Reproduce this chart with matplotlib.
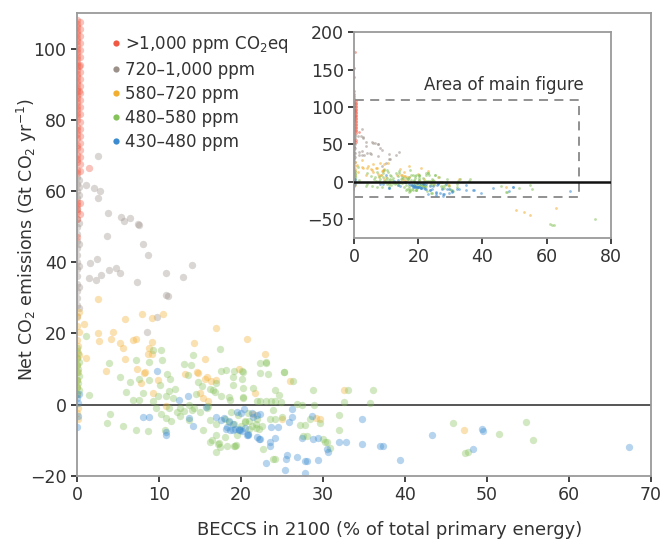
import numpy as np
import matplotlib
matplotlib.use("Agg")
import matplotlib.pyplot as plt
from matplotlib.lines import Line2D
from matplotlib.patches import Rectangle

plt.rcParams['font.family'] = ['DejaVu Sans']
plt.rcParams['mathtext.fontset'] = 'dejavusans'

# ---- data (BECCS %, net CO2 Gt/yr) ----
red_x = [0]*46 + [1.5, 0.2, 0.3] + [0.4]*24
red_y = [108, 107, 106, 105, 104, 103, 102, 101, 100, 99, 98, 97, 96, 95, 94, 93,
         92, 91, 90, 89, 88, 87, 86, 85, 84, 83, 82, 81, 80, 78, 77, 76, 75, 73,
         72, 70, 69, 68, 66, 65, 57, 56, 55, 54, 52, 47, 66.4, 88, 95,
         107.5, 105.5, 103.5, 101.5, 99.5, 97.5, 95.5, 93.5, 91.5, 89.5, 87.5, 85.5,
         83.5, 81.5, 79.5, 77.5, 75.5, 73.5, 71.5, 69.5, 67.5, 65.5, 56.5, 53.5]

gray_x = [0]*19 + [2.5, 1.1, 2.1, 2.8, 2.6, 3.8, 5.4, 5.7, 6.5, 7.4, 3.7, 8.0, 8.6,
                   1.6, 2.4, 1.5, 2.3, 2.9, 3.9, 4.8, 5.2, 7.3, 10.9, 12.9, 14.0,
                   10.9, 11.1, 9.8, 8.5, 7.5] + [0.3]*8
gray_y = [25, 28, 30, 32, 34, 36, 38, 40, 42, 44, 46, 48, 50, 52, 55, 58, 60, 62, 64,
          69.9, 61.7, 60.9, 60.0, 58.1, 53.7, 52.7, 51.5, 52.3, 50.6, 47.4, 45.2, 41.9,
          39.7, 40.8, 35.5, 35.1, 36.4, 37.8, 38.3, 37.0, 34.4, 37.0, 35.8, 39.3,
          30.8, 30.6, 24.5, 20.4, 50.4, 27, 33, 39, 45, 51, 59, 61, 63]

orange_x = [0, 0, 0.2, 0, 0.1, 0, 0.2, 0, 0, 0.1, 0, 0, 0, 0.1, 0, 0.1, 0.8, 1.1, 0.3,
            2.5, 7.9, 9.2, 10.5, 5.8, 17.0, 2.5, 4.4, 2.7, 4.1, 5.2, 5.6, 6.8, 7.2, 9.2,
            8.8, 14.3, 20.7, 5.9, 8.6, 9.1, 15.6, 3.5, 7.3, 8.2, 9.9, 13.2, 14.6, 15.6,
            15.9, 17.0, 15.0, 15.4, 19.8, 9.3, 7.8, 10.9, 22.9, 26.0, 21.7, 21.5, 25.0,
            29.2, 29.6, 32.6, 47.2, 14.8, 16.4, 8.3, 16.0]
orange_y = [24.6, 22, 20.5, 18, 16.5, 15, 14, 13, 11, 9, 7, 5, 3, -1, -2.5, -4.2, 22.6,
            13.2, 26, 29.7, 25.4, 24.2, 25.4, 24.0, 21.4, 20.1, 20.4, 17.9, 18.4, 17.4,
            16.0, 18.2, 18.4, 17.6, 16.0, 17.2, 18.4, 12.7, 14.1, 14.1, 12.9, 9.4, 9.9,
            8.8, 6.9, 8.5, 9.1, 7.3, 7.6, 6.9, 3.1, 1.9, 9.9, 3.1, 6.1, -0.5, 14.1, 6.6,
            3.3, -2.8, -4.0, -3.8, -4.0, 4.0, -7.2, 8.8, 6.5, 9.0, 1.0]

green_x = [0, 0.1, 0, 0.2, 0, 0.1, 0, 0.2, 0, 0.1, 0, 0.2, 0,
           1.1, 3.9, 5.3, 1.5, 6.5, 7.2, 8.8, 9.3, 10.2, 10.4, 11.0, 7.6, 8.8, 10.1,
           11.3, 11.2, 8.1, 6.8, 7.6, 9.3, 9.9, 10.9, 11.7, 13.0, 13.9, 14.1, 13.5,
           14.8, 16.2, 17.0, 17.6, 18.2, 19.0, 19.2, 20.1, 20.1, 19.0, 17.4, 16.6,
           17.6, 18.7, 20.2, 12.6, 13.6, 14.3, 15.8, 11.2, 10.3, 10.9, 11.5, 12.6,
           13.6, 4.0, 3.6, 5.6, 7.2, 8.7, 10.7, 15.4, 16.2, 17.0, 17.0, 17.2, 17.4,
           17.0, 19.1, 19.4,
           18.0, 18.5, 19.2, 20.0, 20.5, 21.0, 19.6, 18.8, 20.8, 21.8, 22.0, 21.0,
           19.5, 18.0, 16.5, 22.5, 16.2, 17.3, 18.3, 19.3, 23.9, 25.2, 23.1,
           22.3, 23.1, 20.3, 22.3, 23.3, 25.2, 26.4, 28.8, 20.3, 21.5, 24.1, 24.6,
           20.3, 21.9, 22.3, 23.1, 23.7, 24.1, 24.9, 26.8, 27.4, 28.9, 32.5, 35.7,
           31.9, 31.9, 33.1, 36.1, 23.9, 23.5, 24.2, 25.0, 20.5, 21.4, 21.8, 22.2,
           27.2, 27.8, 28.4, 27.5, 28.0, 30.0, 30.3, 30.8, 24.1, 22.7, 29.6,
           45.8, 51.5, 54.8, 55.6, 47.3, 47.7, 30.5,
           12.0, 14.5, 15.2, 16.8, 18.5, 12.2, 13.1, 9.6, 6.0, 14.0, 15.0, 16.0]
green_y = [16, 14.5, 13, 12, 11, 10, 9, 8, 7, 6, 5, 4, 3,
           19.3, 11.8, 7.8, 2.8, 6.3, 12.5, 12.0, 15.3, 15.3, 12.5, 8.5, 7.1, 6.9, 5.6,
           7.2, 3.8, 3.1, 1.4, 1.4, 0.9, 2.4, 2.5, 1.9, 11.3, 11.0, 13.8, 8.2, 6.3,
           4.4, 6.0, 9.4, 9.6, 7.8, 9.4, 9.4, 7.1, 5.6, 15.7, 4.2, 2.4, 1.4, 2.2, -0.9,
           0.0, -0.9, -0.9, -0.9, -2.8, -3.7, -4.7, -3.1, -4.3, -2.8, -5.2, -5.9, -7.1,
           -7.5, -7.1, -7.1, -4.4, -5.6, -8.5, -11.0, -11.8, -13.2, -11.6, -11.4,
           -4.0, -5.0, -5.5, -6.0, -5.0, -4.5, -3.0, -2.0, -2.5, -5.5, -4.0, -6.8,
           -8.5, -9.2, -10.0, -6.0, -10.6, -10.8, -11.6, -11.6, -15.3, 9.0, 11.7,
           11.8, 11.9, 9.1, 8.9, 8.7, 9.0, 6.6, 4.1, 4.7, 4.7, 4.2, 2.6,
           1.9, 0.9, 0.9, 0.9, 0.9, 0.9, 0.7, 0.2, 0.0, 0.0, 0.6, 0.4,
           -2.9, -7.1, 4.1, 4.1, -1.4, -4.0, -4.0, -3.5, -4.5, -6.0, -6.5, -6.8,
           -5.8, -5.8, -4.0, -8.8, -8.8, -9.6, -10.5, -12.2, -15.4, -12.4, -5.2,
           -5.2, -8.2, -5.0, -10.1, -13.6, -13.2, -10.5,
           4.5, 3.0, 5.2, 3.5, 2.0, -2.0, -1.8, -1.0, 3.6, -1.5, -2.2, -0.5]

blue_x = [0, 0, 0.1, 0.1, 0.2,
          9.8, 12.4, 13.5, 8.0, 8.8, 10.9, 10.8, 13.6, 14.2, 15.7, 17.0, 17.6, 18.3,
          19.0, 19.7, 20.1, 20.7, 20.4, 19.5, 20.0, 21.5, 21.9, 22.2, 23.1, 25.4, 25.6,
          26.8, 27.8, 28.1, 27.8, 29.4, 27.4, 28.8, 29.4, 30.6, 30.5, 31.9, 32.8, 26.2,
          24.5, 17.9, 18.5, 18.2, 18.6, 19.3, 19.8, 20.8, 21.4, 22.3, 19.9, 20.9, 21.9,
          22.3, 23.5, 23.5, 24.1, 26.2, 25.8, 23.7, 28.6, 34.8, 34.7, 37.0, 37.3, 39.4,
          25.5, 43.3, 49.4, 49.5, 48.3, 67.3, 19.0, 20.5]
blue_y = [1.9, -6.3, -3.1, 0.5, 3.0,
          9.4, 1.4, 2.5, -3.5, -3.5, -8.5, -7.8, -3.8, -6.1, -0.6, -3.5, -4.3, -6.3,
          -7.1, -6.9, -7.5, -8.5, -1.2, -2.2, -2.3, -3.5, -3.0, -9.8, -16.5, -18.4,
          -14.1, -14.6, -16.0, -16.0, -19.1, -15.5, -9.4, -9.7, -9.4, -13.2, -12.6,
          -10.4, -10.4, -3.5, -6.3, -3.8, -4.7, -7.0, -7.1, -7.0, -7.2, -8.5, -2.4,
          -2.8, -7.1, -8.2, -9.0, -9.8, -10.6, -11.6, -9.4, -1.2, -5.0, -6.3, -3.3,
          -4.1, -11.1, -11.6, -11.6, -15.7, -15.4, -8.7, -6.8, -7.5, -12.4, -11.8,
          -5.5, -6.5]

# points only visible in the inset (outside the main window)
red_out_x = [0, 0, 0, 0, 0.2, 0, 0]
red_out_y = [115, 121, 140, 152, 174, 112, 118]
orange_out_x = [50.5, 52.8, 54.9, 63.0]
orange_out_y = [-37.9, -40.5, -45.0, -34.7]
green_out_x = [61.2, 62.2, 61.8, 75.2]
green_out_y = [-57.0, -58.0, -57.5, -50.3]

labels = ['>1,000 ppm CO$_2$eq', '720–1,000 ppm', '580–720 ppm', '480–580 ppm', '430–480 ppm']
colors = ['#F05A45', '#9C918A', '#F2AE30', '#86C25A', '#3A8BD0']

series = [(red_x, red_y, red_out_x, red_out_y),
          (gray_x, gray_y, [], []),
          (orange_x, orange_y, orange_out_x, orange_out_y),
          (green_x, green_y, green_out_x, green_out_y),
          (blue_x, blue_y, [], [])]

draw_order = [1, 0, 2, 3, 4]

fig = plt.figure(figsize=(6.65, 5.39), dpi=100)
ax = fig.add_axes([0.1158, 0.1174, 0.8632, 0.8585])

for i in draw_order:
    xs, ys, _, _ = series[i]
    ax.scatter(xs, ys, s=28, color=colors[i], alpha=0.37, linewidths=0, zorder=2)

ax.axhline(0, color='#555555', lw=1.4, zorder=1)
ax.set_xlim(0, 70)
ax.set_ylim(-20, 110)
ax.set_xticks(range(0, 71, 10))
ax.set_yticks([-20, 0, 20, 40, 60, 80, 100])
for sp in ax.spines.values():
    sp.set_color('#9a9a9a')
    sp.set_linewidth(1.3)
ax.tick_params(direction='out', length=4, width=1.2, color='#222222',
               labelsize=12.5, labelcolor='#333333')
ax.set_xlabel('BECCS in 2100 (% of total primary energy)', fontsize=13,
              color='#333333')
ax.xaxis.set_label_coords(0.545, -0.097)
ax.set_ylabel('Net CO$_2$ emissions (Gt CO$_2$ yr$^{-1}$)', fontsize=12.5,
              color='#333333')
ax.yaxis.set_label_coords(-0.066, 0.51)

handles = [Line2D([], [], ls='none', marker='o', markersize=4.5, color=c,
                  markeredgewidth=0) for c in colors]
ax.legend(handles, labels, loc='upper left', bbox_to_anchor=(0.042, 0.97),
          frameon=False, fontsize=12, handletextpad=0.05, labelspacing=0.37,
          handlelength=1.0, borderaxespad=0, labelcolor='#333333')

# inset with the full range
ins = fig.add_axes([0.5328, 0.559, 0.3855, 0.381])
for i in draw_order:
    xs, ys, xo, yo = series[i]
    ins.scatter(list(xs) + list(xo), list(ys) + list(yo), s=4, color=colors[i],
                alpha=0.55, linewidths=0, zorder=2)
ins.axhline(0, color='#111111', lw=1.8, zorder=3)
ins.add_patch(Rectangle((0, -20), 70, 130, fill=False, ls=(0, (5, 3.5)),
                        ec='#888888', lw=1.3, zorder=1))
ins.text(71.5, 130, 'Area of main figure', ha='right', va='center', fontsize=12,
         color='#333333')
ins.set_xlim(0, 80)
ins.set_ylim(-75, 200)
ins.set_xticks([0, 20, 40, 60, 80])
ins.set_yticks([-50, 0, 50, 100, 150, 200])
for sp in ins.spines.values():
    sp.set_color('#9a9a9a')
    sp.set_linewidth(1.3)
ins.tick_params(direction='out', length=4, width=1.2, color='#222222',
                labelsize=12.5, labelcolor='#333333')

fig.savefig('out.png', dpi=100)
